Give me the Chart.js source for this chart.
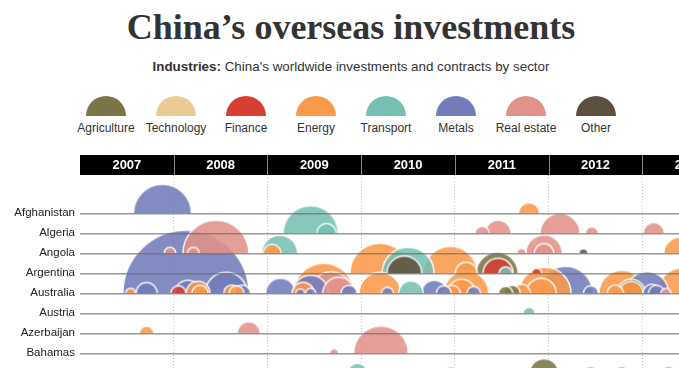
<!DOCTYPE html>
<html>
<head>
<meta charset="utf-8">
<script src="https://cdn.jsdelivr.net/npm/chart.js@4.4.1/dist/chart.umd.min.js"></script>
<style>
html, body { margin: 0; overflow: hidden; }
body { width: 679px; height: 368px; background: #fff; position: relative; font-family: "Liberation Sans", Arial, sans-serif; color: #333; }
#title { position: absolute; left: 0; width: 702px; top: 9px; text-align: center; font: bold 36px/36px "Liberation Serif", serif; color: #333; white-space: nowrap; }
#sub { position: absolute; left: 0; width: 702px; top: 60px; text-align: center; font: 13.4px/13px "Liberation Sans", sans-serif; color: #333; white-space: nowrap; }
.key { position: absolute; top: 96px; width: 40px; height: 20px; border-radius: 20px 20px 0 0; }
.lab { position: absolute; top: 122px; width: 80px; text-align: center; font: 12px/12px "Liberation Sans", sans-serif; color: #333; }
#wrap { position: absolute; left: 0; top: 155px; width: 679px; height: 225px; }
#chart { display: block; width: 679px; height: 225px; }
</style>
</head>
<body>
<div id="title">China’s overseas investments</div>
<div id="sub"><b>Industries:</b> China's worldwide investments and contracts by sector</div>
<div id="keys"></div>
<div id="wrap"><canvas id="chart" width="679" height="225"></canvas></div>
<script>
// rows, years and sectors
const countries = ['Afghanistan', 'Algeria', 'Angola', 'Argentina', 'Australia', 'Austria', 'Azerbaijan', 'Bahamas', 'Bangladesh'];
const years = [2007, 2008, 2009, 2010, 2011, 2012, 2013];
const sectors = ['Agriculture', 'Technology', 'Finance', 'Energy', 'Transport', 'Metals', 'Real estate', 'Other'];
const sectorColors = ['#7a7446', '#ebca96', '#d83f33', '#fb9a4a', '#76bfb3', '#717cb9', '#e1928a', '#5e5040'];

// deals per sector: [country, date (year), value in $bn]
const agriculture = [
    ['Argentina', 2011.45, 2.25],
    ['Australia', 2011.54, 0.25],
    ['Australia', 2011.61, 0.33],
    ['Australia', 2012.88, 1.0],
    ['Bangladesh', 2011.95, 1.09]
];
const technology = [
    ['Bangladesh', 2010.96, 0.25]
];
const finance = [
    ['Argentina', 2011.46, 1.15],
    ['Argentina', 2011.87, 0.13],
    ['Australia', 2008.05, 0.29]
];
const energy = [
    ['Afghanistan', 2011.79, 0.57],
    ['Angola', 2009.05, 0.41],
    ['Angola', 2013.40, 1.31],
    ['Argentina', 2010.20, 4.59],
    ['Argentina', 2010.95, 3.72],
    ['Argentina', 2011.12, 0.62],
    ['Australia', 2007.54, 0.13],
    ['Australia', 2008.26, 0.73],
    ['Australia', 2008.28, 0.33],
    ['Australia', 2008.62, 0.35],
    ['Australia', 2008.67, 0.29],
    ['Australia', 2009.60, 4.59],
    ['Australia', 2009.38, 0.62],
    ['Australia', 2010.20, 2.25],
    ['Australia', 2010.97, 0.33],
    ['Australia', 2011.12, 2.58],
    ['Australia', 2011.07, 1.0],
    ['Australia', 2011.71, 0.41],
    ['Australia', 2011.96, 3.45],
    ['Australia', 2011.92, 1.15],
    ['Australia', 2012.78, 2.70],
    ['Australia', 2012.71, 0.35],
    ['Australia', 2012.88, 0.73],
    ['Australia', 2013.43, 3.34],
    ['Azerbaijan', 2007.71, 0.27],
    ['Bangladesh', 2012.45, 0.25],
    ['Bangladesh', 2012.78, 0.25],
    ['Bangladesh', 2013.28, 0.25]
];
const transport = [
    ['Algeria', 2009.46, 3.86],
    ['Algeria', 2009.63, 0.48],
    ['Angola', 2009.13, 1.65],
    ['Argentina', 2010.50, 3.45],
    ['Argentina', 2011.54, 0.22],
    ['Australia', 2010.53, 0.77],
    ['Austria', 2011.79, 0.18],
    ['Bangladesh', 2009.96, 0.51]
];
const metals = [
    ['Afghanistan', 2007.88, 4.29],
    ['Australia', 2008.13, 20.25],
    ['Australia', 2007.71, 0.58],
    ['Australia', 2008.15, 0.86],
    ['Australia', 2008.56, 2.25],
    ['Australia', 2008.73, 0.35],
    ['Australia', 2009.14, 1.15],
    ['Australia', 2009.46, 1.65],
    ['Australia', 2009.35, 0.10],
    ['Australia', 2009.46, 0.13],
    ['Australia', 2009.87, 0.33],
    ['Australia', 2010.28, 0.18],
    ['Australia', 2010.78, 0.86],
    ['Australia', 2010.88, 0.29],
    ['Australia', 2011.20, 0.23],
    ['Australia', 2012.18, 3.72],
    ['Australia', 2012.45, 0.29],
    ['Australia', 2013.05, 2.38],
    ['Australia', 2013.10, 0.41],
    ['Australia', 2013.15, 0.33]
];
const realEstate = [
    ['Algeria', 2011.29, 0.25],
    ['Algeria', 2011.46, 0.86],
    ['Algeria', 2012.12, 2.04],
    ['Algeria', 2012.46, 0.22],
    ['Algeria', 2013.12, 0.58],
    ['Angola', 2008.45, 5.56],
    ['Angola', 2007.96, 0.18],
    ['Angola', 2008.21, 0.18],
    ['Angola', 2011.71, 0.11],
    ['Angola', 2011.95, 1.71],
    ['Angola', 2011.95, 0.48],
    ['Australia', 2009.68, 2.38],
    ['Australia', 2009.76, 1.31],
    ['Australia', 2013.25, 0.13],
    ['Azerbaijan', 2008.80, 0.67],
    ['Bahamas', 2009.71, 0.10],
    ['Bahamas', 2010.21, 3.80]
];
const other = [
    ['Angola', 2012.37, 0.10],
    ['Argentina', 2010.46, 1.53]
];

const deals = [agriculture, technology, finance, energy, transport, metals, realEstate, other];

// legend
const keys = document.getElementById('keys');
sectors.forEach((name, i) => {
    const cx = 106 + i * 70;
    const k = document.createElement('div');
    k.className = 'key';
    k.style.left = (cx - 20) + 'px';
    k.style.background = sectorColors[i];
    keys.appendChild(k);
    const l = document.createElement('div');
    l.className = 'lab';
    l.style.left = (cx - 40) + 'px';
    l.textContent = name;
    keys.appendChild(l);
});

// bubble radius in px from value in $bn
const sizeScale = 14;
const points = [];
deals.forEach((list, s) => {
    list.forEach(d => {
        points.push({ x: d[1], y: countries.indexOf(d[0]), r: sizeScale * Math.sqrt(d[2]), s: s });
    });
});
points.sort((a, b) => b.r - a.r);

// half-circle point images
const cache = {};
function halfCircle(color, r) {
    const key = color + r.toFixed(2);
    if (cache[key]) return cache[key];
    const size = Math.ceil(r + 3) * 2;
    const c = document.createElement('canvas');
    c.width = size;
    c.height = size;
    const g = c.getContext('2d');
    const m = size / 2;
    g.beginPath();
    g.arc(m, m, r, Math.PI, 0);
    g.closePath();
    g.globalAlpha = 0.88;
    g.fillStyle = color;
    g.fill();
    g.globalAlpha = 1;
    g.beginPath();
    g.arc(m, m, r, Math.PI, 0);
    g.strokeStyle = 'rgba(255,255,255,0.9)';
    g.lineWidth = 1.5;
    g.stroke();
    cache[key] = c;
    return c;
}

const yearBar = {
    id: 'yearBar',
    beforeDraw(chart) {
        const s = chart.scales.xTop;
        const ctx = chart.ctx;
        ctx.save();
        ctx.fillStyle = '#000';
        ctx.fillRect(s.left, s.top, s.right - s.left, s.bottom - s.top);
        ctx.strokeStyle = '#888';
        ctx.lineWidth = 1;
        years.slice(1).forEach(y => {
            const x = Math.round(s.getPixelForValue(y)) + 0.5;
            ctx.beginPath();
            ctx.moveTo(x, s.top);
            ctx.lineTo(x, s.bottom);
            ctx.stroke();
        });
        ctx.restore();
    }
};

// drop the label padding the scales ask for, so the plot fills the canvas
function noPad(s) {
    s.paddingLeft = 0;
    s.paddingRight = 0;
    s.paddingTop = 0;
    s.paddingBottom = 0;
}

const xMin = 2007, xMax = 2013.39;

new Chart(document.getElementById('chart'), {
    type: 'bubble',
    data: {
        datasets: [{
            data: points,
            pointStyle: ctx => halfCircle(sectorColors[ctx.raw.s], ctx.raw.r),
            backgroundColor: ctx => sectorColors[ctx.raw.s],
            borderWidth: 0
        }]
    },
    options: {
        responsive: false,
        maintainAspectRatio: false,
        devicePixelRatio: 1,
        animation: false,
        events: [],
        layout: { padding: 0, autoPadding: false },
        plugins: { legend: { display: false }, tooltip: { enabled: false } },
        scales: {
            x: {
                type: 'linear',
                position: 'bottom',
                min: xMin,
                max: xMax,
                afterBuildTicks: s => { s.ticks = years.slice(1).map(v => ({ value: v })); },
                afterFit: s => { s.height = 0; noPad(s); },
                ticks: { display: false },
                grid: { color: '#c4c4c4', lineWidth: 1, drawTicks: false, borderDash: [1, 2] },
                border: { display: false, dash: [1, 2] }
            },
            xTop: {
                type: 'linear',
                position: 'top',
                min: xMin,
                max: xMax,
                afterBuildTicks: s => { s.ticks = years.map(v => ({ value: v + 0.5 })); },
                afterFit: s => { s.height = 20; noPad(s); },
                ticks: {
                    autoSkip: false,
                    maxRotation: 0,
                    padding: 2,
                    color: '#fff',
                    font: { family: 'Liberation Sans', size: 13, weight: 'bold' },
                    callback: v => String(Math.floor(v))
                },
                grid: { display: false, drawTicks: false },
                border: { display: false }
            },
            y: {
                type: 'linear',
                reverse: true,
                min: -1.915,
                max: 8.335,
                afterBuildTicks: s => { s.ticks = countries.map((c, i) => ({ value: i })); },
                afterFit: s => { s.width = 80; noPad(s); },
                ticks: {
                    autoSkip: false,
                    padding: 5,
                    color: '#222',
                    font: { family: 'Liberation Sans', size: 11.5 },
                    callback: v => countries[v]
                },
                grid: { color: 'rgba(110,110,110,0.7)', lineWidth: 1.5, drawTicks: false, z: 1 },
                border: { display: false }
            }
        }
    },
    plugins: [yearBar]
});
</script>
</body>
</html>
